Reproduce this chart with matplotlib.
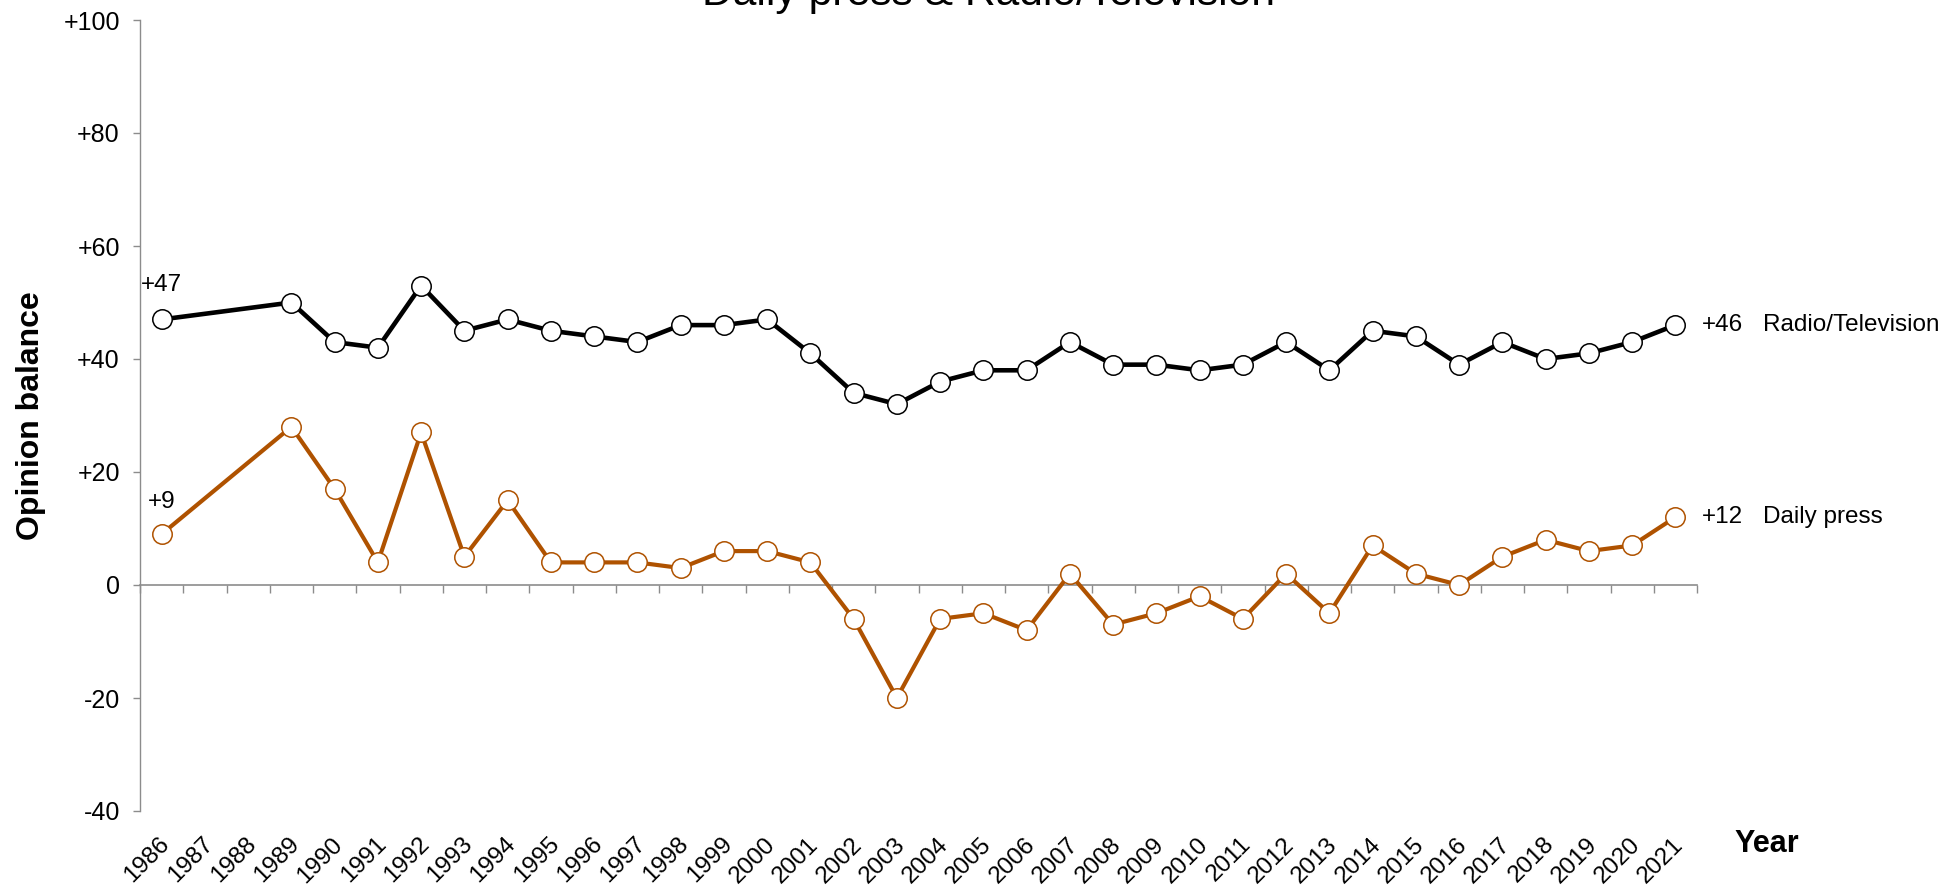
import matplotlib
matplotlib.use('Agg')
import matplotlib.pyplot as plt
import matplotlib.transforms as mtransforms
import numpy as np

plt.rcParams['font.family'] = ['Liberation Sans', 'DejaVu Sans']

# Data
years = list(range(1986, 2022))
radio_tv = [47, None, None, 50, 43, 42, 53, 45, 47, 45, 44, 43, 46, 46, 47, 41, 34, 32,
            36, 38, 38, 43, 39, 39, 38, 39, 43, 38, 45, 44, 39, 43, 40, 41, 43, 46]
daily_press = [9, None, None, 28, 17, 4, 27, 5, 15, 4, 4, 4, 3, 6, 6, 4, -6, -20,
               -6, -5, -8, 2, -7, -5, -2, -6, 2, -5, 7, 2, 0, 5, 8, 6, 7, 12]
y_ticks = [-40, -20, 0, 20, 40, 60, 80, 100]
y_tick_labels = ['-40', '-20', '0', '+20', '+40', '+60', '+80', '+100']
series_names = ['Radio/Television', 'Daily press']
title = 'Daily press & Radio/Television'

ORANGE = '#AF5200'
GRAY = '#8C8C8C'

W, H = 1959, 885
fig = plt.figure(figsize=(W / 100, H / 100), dpi=100)
ax = fig.add_axes([140 / W, 1 - 811 / H, (1697 - 140) / W, (811 - 20) / H])

# drop the missing years so the lines join across them
def valid(vals):
    x = [yr for yr, v in zip(years, vals) if v is not None]
    y = [v for v in vals if v is not None]
    return np.array(x), np.array(y)

x_tv, y_tv = valid(radio_tv)
x_dp, y_dp = valid(daily_press)

ax.plot(x_dp, y_dp, color=ORANGE, lw=3.0, marker='o', ms=14,
        mfc='white', mec=ORANGE, mew=1.1, zorder=3)
ax.plot(x_tv, y_tv, color='black', lw=3.3, marker='o', ms=14,
        mfc='white', mec='black', mew=1.1, zorder=4)

ax.set_xlim(years[0] - 0.5, years[-1] + 0.5)
ax.set_ylim(-40, 100)

# y axis
ax.set_yticks(y_ticks)
ax.set_yticklabels(y_tick_labels, fontsize=18)
ax.tick_params(axis='y', direction='out', length=5, width=1, color=GRAY, pad=9.5)
for s in ['top', 'right', 'bottom']:
    ax.spines[s].set_visible(False)
ax.spines['left'].set_color(GRAY)
ax.spines['left'].set_linewidth(1)

# year labels below the plot
ax.set_xticks(years)
ax.set_xticklabels([str(y) for y in years], fontsize=17.5, rotation=45,
                   ha='right', va='top', rotation_mode='anchor')
ax.tick_params(axis='x', length=0, pad=16)
shift = mtransforms.ScaledTranslation(-3 / 100, 0, fig.dpi_scale_trans)
for lab in ax.get_xticklabels():
    lab.set_transform(lab.get_transform() + shift)

# zero line with category ticks
zero_frac = (0 - (-40)) / 140
sec = ax.secondary_xaxis(zero_frac)
sec.set_xticks(np.arange(years[0] - 0.5, years[-1] + 1, 1))
sec.tick_params(axis='x', direction='out', length=6, width=1, color=GRAY,
                labelbottom=False, labeltop=False)
sec.spines['bottom'].set_color(GRAY)
sec.spines['bottom'].set_linewidth(1.2)

# first-year labels
ax.annotate('+%d' % y_tv[0], (x_tv[0], y_tv[0]), xytext=(0, 25), textcoords='offset points',
            ha='center', va='center', fontsize=17.5)
ax.annotate('+%d' % y_dp[0], (x_dp[0], y_dp[0]), xytext=(0, 23), textcoords='offset points',
            ha='center', va='center', fontsize=17.5)

# end labels
for xs, ys, name in [(x_tv, y_tv, series_names[0]), (x_dp, y_dp, series_names[1])]:
    ax.annotate('+%d' % ys[-1], (xs[-1], ys[-1]), xytext=(19, 0), textcoords='offset points',
                ha='left', va='center', fontsize=17.5, annotation_clip=False)
    ax.annotate(name, (xs[-1], ys[-1]), xytext=(63, 0), textcoords='offset points',
                ha='left', va='center', fontsize=17.5, annotation_clip=False)

fig.text(31 / W, 1 - 416 / H, 'Opinion balance', rotation=90, ha='center', va='center',
         fontsize=23, fontweight='bold')
fig.text(1734 / W, 1 - 844 / H, 'Year', ha='left', va='center', fontsize=22, fontweight='bold')
fig.text(988 / W, 1 - 5 / H, title, ha='center', va='baseline', fontsize=30.7)

fig.savefig('out.png', dpi=100)
